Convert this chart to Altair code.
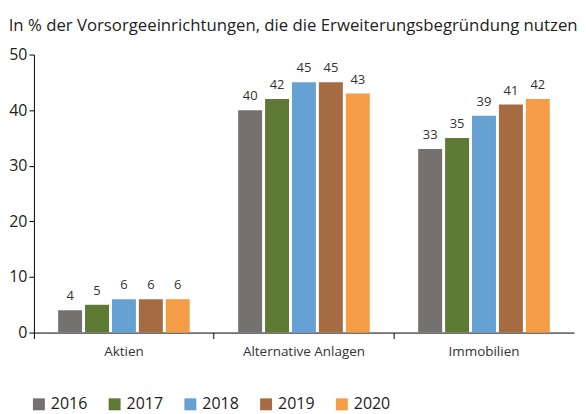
import altair as alt
import pandas as pd

categories = ["Aktien", "Alternative Anlagen", "Immobilien"]
years = ["2016", "2017", "2018", "2019", "2020"]
values = {
    "Aktien": [4, 5, 6, 6, 6],
    "Alternative Anlagen": [40, 42, 45, 45, 43],
    "Immobilien": [33, 35, 39, 41, 42],
}
colors = ["#767171", "#5f7a35", "#66a1d3", "#a56b43", "#f59c46"]
title_text = "In % der Vorsorgeeinrichtungen, die die Erweiterungsbegründung nutzen"

rows = []
for c in categories:
    for y, v in zip(years, values[c]):
        rows.append({"Kategorie": c, "Jahr": y, "Wert": v})
df = pd.DataFrame(rows)

FONT = "Open Sans"

x = alt.X("Kategorie:N", sort=categories, title=None,
          scale=alt.Scale(paddingInner=0, paddingOuter=0),
          axis=alt.Axis(labelAngle=0, labelFontSize=13.5, labelColor="#333333", labelFont=FONT,
                        domainColor="#000000", tickColor="#000000", tickSize=6,
                        bandPosition=0, labelPadding=6, grid=False))
xo = alt.XOffset("Jahr:N", sort=years,
                 scale=alt.Scale(paddingInner=0.11, paddingOuter=0.9))
y = alt.Y("Wert:Q", title=None,
          scale=alt.Scale(domain=[0, 50]),
          axis=alt.Axis(values=[0, 10, 20, 30, 40, 50], labelFontSize=16, labelColor="#222222",
                        labelFont=FONT, domainColor="#000000", tickColor="#000000",
                        tickSize=5, grid=False, labelPadding=2))

color = alt.Color("Jahr:N", sort=years, title=None,
                  scale=alt.Scale(domain=years, range=colors),
                  legend=alt.Legend(orient="none", legendX=-3, legendY=343, direction="horizontal",
                                    symbolType="square", symbolSize=144, symbolStrokeWidth=0,
                                    labelFontSize=16, labelFont=FONT, labelColor="#222222",
                                    columnPadding=19, symbolOffset=0, labelOffset=4))

bars = alt.Chart(df).mark_bar().encode(x=x, xOffset=xo, y=y, color=color)
labels = alt.Chart(df).mark_text(dy=-7, fontSize=13, font=FONT, color="#333333", baseline="bottom").encode(
    x=x, xOffset=xo, y=y, text="Wert:Q")

chart = (bars + labels).properties(
    width=542, height=279,
    title=alt.TitleParams(title_text, anchor="start", frame="bounds", fontSize=16.8,
                          font=FONT, fontWeight="normal", color="#222222", offset=12),
    padding={"left": 0, "top": 9, "right": 0, "bottom": 0},
).configure_view(stroke=None)

chart.save("out.html", embed_options={"renderer": "svg", "actions": False})
